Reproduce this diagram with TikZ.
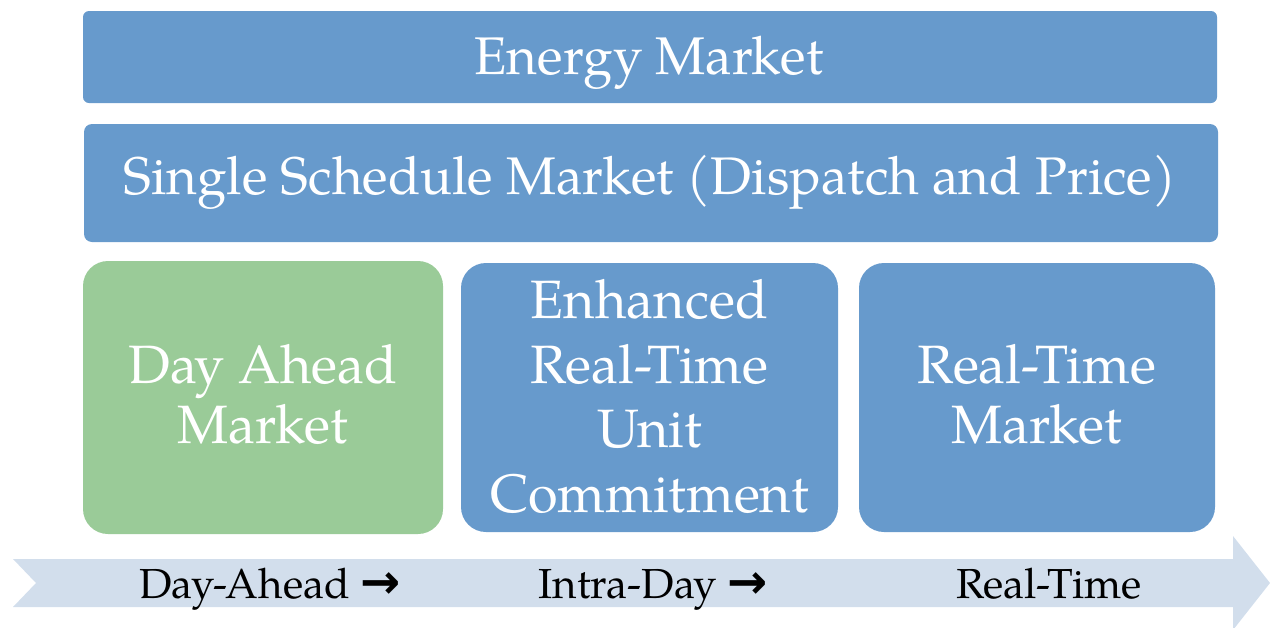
\documentclass[tikz,border=0pt]{standalone}
\usepackage{fontspec}
\setmainfont{texgyrepagella}[Extension=.otf,UprightFont=*-regular,BoldFont=*-bold,ItalicFont=*-italic,BoldItalicFont=*-bolditalic]
\newfontfamily\arrfont{DejaVu Sans}
\newcommand{\timearrow}{{\arrfont\bfseries\fontsize{48}{48}\selectfont →}}
\definecolor{boxblue}{RGB}{103,154,204}
\definecolor{boxgreen}{RGB}{154,203,152}
\definecolor{arrowfill}{RGB}{210,222,236}
\tikzset{
  box/.style={fill=#1, draw=none, inner sep=0pt},
  boxtext/.style={text=white, font=\fontsize{54}{60}\selectfont, anchor=base, inner sep=0pt},
  timetext/.style={text=black, font=\fontsize{42}{48}\selectfont, anchor=base, inner sep=0pt},
}
\begin{document}
\begin{tikzpicture}[x=1pt,y=-1pt]
\useasboundingbox (0,0) rectangle (1270,627);
% boxes
\node[box=boxblue, rounded corners=6pt, minimum width=1134pt, minimum height=92pt] (em) at (650,57) {};
\node[box=boxblue, rounded corners=8pt, minimum width=1134pt, minimum height=118pt] (ss) at (651,183) {};
\node[box=boxgreen, rounded corners=25pt, minimum width=360pt, minimum height=273pt] (da) at (263,397.5) {};
\node[box=boxblue, rounded corners=25pt, minimum width=377pt, minimum height=269pt] (er) at (649.5,397.5) {};
\node[box=boxblue, rounded corners=25pt, minimum width=356pt, minimum height=269pt] (rt) at (1037,397.5) {};
% timeline arrow
\fill[arrowfill] (13,559) -- (1233,559) -- (1233,536) -- (1270,583) -- (1233,630) -- (1233,607) -- (13,607) -- (36,583) -- cycle;
% texts
\node[boxtext, font=\fontsize{53}{60}\selectfont] (emt) at (649,74) {Energy Market};
\node[boxtext, font=\fontsize{52.9}{60}\selectfont] (sst) at (650,194) {Single Schedule Market (Dispatch and Price)};
\node[boxtext] (dat1) at (263,383) {Day Ahead};
\node[boxtext] (dat2) at (263,443) {Market};
\node[boxtext] (ert1) at (649.5,318) {Enhanced};
\node[boxtext] (ert2) at (649.5,383) {Real-Time};
\node[boxtext] (ert3) at (649.5,447) {Unit};
\node[boxtext] (ert4) at (649.5,512) {Commitment};
\node[boxtext] (rtt1) at (1037,383) {Real-Time};
\node[boxtext] (rtt2) at (1037,443) {Market};
\node[timetext] (tl1) at (270,598) {Day-Ahead \timearrow};
\node[timetext] (tl2) at (653,598) {Intra-Day \timearrow};
\node[timetext] (tl3) at (1049,598) {Real-Time};
\end{tikzpicture}
\end{document}
